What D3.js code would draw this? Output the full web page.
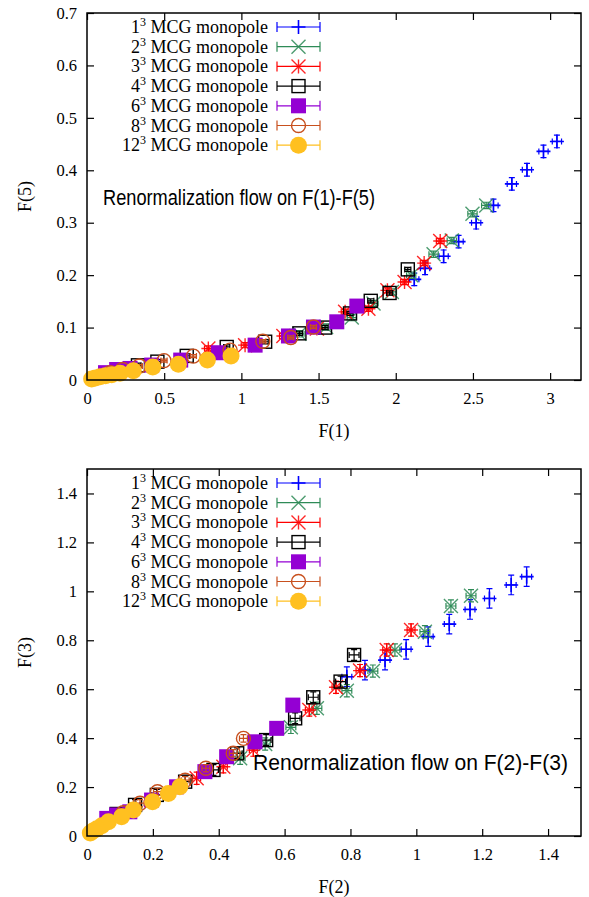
<!DOCTYPE html>
<html>
<head>
<meta charset="utf-8">
<script src="https://cdn.jsdelivr.net/npm/d3@7"></script>
<style>
  html, body { margin: 0; padding: 0; background: #fff; }
  svg { display: block; }
</style>
</head>
<body>
<svg id="chart" width="589" height="897"></svg>
<script>
// Lattice block sizes (n^3 MCG monopole), one series per size
const blockSizes = ["1", "2", "3", "4", "6", "8", "12"];
const seriesColors = ["#0000ff", "#2e8b57", "#ff0000", "#000000", "#9400d3", "#c8501e", "#ffc020"];
const seriesMarkers = ["plus", "cross", "star", "square", "squareFilled", "circle", "circleFilled"];

// ---- Panel 1: F(1) vs F(5) ----
const f1_L1 = [3.044, 2.957, 2.850, 2.752, 2.633, 2.521, 2.407, 2.310, 2.190, 2.120];
const f5_L1 = [0.455, 0.436, 0.401, 0.374, 0.333, 0.300, 0.264, 0.236, 0.213, 0.192];
const f1_L2 = [2.586, 2.497, 2.363, 2.245, 2.100, 1.975, 1.856, 1.715, 1.549, 1.376];
const f5_L2 = [0.333, 0.317, 0.266, 0.240, 0.200, 0.168, 0.146, 0.119, 0.101, 0.088];
const f1_L3 = [2.288, 2.184, 2.057, 1.946, 1.823, 1.672, 1.489, 1.272, 1.024, 0.786];
const f5_L3 = [0.265, 0.223, 0.187, 0.171, 0.136, 0.130, 0.098, 0.084, 0.0665, 0.060];
const f1_L4 = [2.078, 1.960, 1.838, 1.704, 1.542, 1.376, 1.154, 0.905, 0.646, 0.456, 0.330];
const f5_L4 = [0.211, 0.166, 0.151, 0.127, 0.100, 0.089, 0.073, 0.063, 0.046, 0.035, 0.028];
const f1_L6 = [1.748, 1.618, 1.467, 1.305, 1.089, 0.851, 0.607, 0.419, 0.279, 0.192, 0.120];
const f5_L6 = [0.141, 0.111, 0.101, 0.084, 0.0665, 0.052, 0.038, 0.0285, 0.022, 0.020, 0.014];
const f1_L8 = [1.467, 1.320, 1.139, 0.927, 0.689, 0.499, 0.339, 0.230, 0.150];
const f5_L8 = [0.101, 0.081, 0.074, 0.057, 0.0456, 0.037, 0.0266, 0.020, 0.014];
const f1_L12 = [0.933, 0.780, 0.592, 0.426, 0.300, 0.214, 0.160, 0.120, 0.085, 0.055, 0.030];
const f5_L12 = [0.0456, 0.038, 0.030, 0.025, 0.0177, 0.0127, 0.010, 0.008, 0.006, 0.004, 0.002];
// statistical errors (x, y) per block size, panel 1
const err15_x = [0.030, 0.030, 0.025, 0.020, 0.015, 0.020, 0.010];
const err15_y = [0.012, 0.006, 0.005, 0.004, 0.002, 0.003, 0.001];

// ---- Panel 2: F(2) vs F(3) ----
const f2_L1 = [1.335, 1.288, 1.222, 1.163, 1.100, 1.036, 0.969, 0.905, 0.844, 0.789];
const f3_L1 = [1.060, 1.026, 0.971, 0.926, 0.866, 0.815, 0.763, 0.719, 0.678, 0.651];
const f2_L2 = [1.166, 1.105, 1.026, 0.935, 0.868, 0.789, 0.698, 0.619, 0.541, 0.465];
const f3_L2 = [0.982, 0.940, 0.835, 0.760, 0.674, 0.594, 0.522, 0.444, 0.376, 0.318];
const f2_L3 = [0.984, 0.910, 0.829, 0.756, 0.675, 0.505, 0.414, 0.333];
const f3_L3 = [0.842, 0.760, 0.676, 0.608, 0.515, 0.351, 0.283, 0.236];
const f2_L4 = [0.811, 0.770, 0.687, 0.632, 0.544, 0.456, 0.384, 0.298, 0.212, 0.146, 0.090];
const f3_L4 = [0.740, 0.631, 0.567, 0.481, 0.392, 0.338, 0.270, 0.222, 0.168, 0.127, 0.090];
const f2_L6 = [0.625, 0.576, 0.510, 0.424, 0.358, 0.272, 0.196, 0.130, 0.090, 0.060];
const f3_L6 = [0.535, 0.440, 0.385, 0.324, 0.263, 0.201, 0.147, 0.099, 0.086, 0.072];
const f2_L8 = [0.475, 0.444, 0.361, 0.298, 0.214, 0.161, 0.110];
const f3_L8 = [0.399, 0.338, 0.277, 0.228, 0.181, 0.134, 0.095];
const f2_L12 = [0.282, 0.247, 0.199, 0.141, 0.105, 0.065, 0.045, 0.030, 0.018, 0.010];
const f3_L12 = [0.201, 0.174, 0.140, 0.106, 0.079, 0.058, 0.042, 0.030, 0.020, 0.012];
// statistical errors (x, y) per block size, panel 2
const err23_x = [0.015, 0.015, 0.012, 0.015, 0.008, 0.012, 0.006];
const err23_y = [0.040, 0.025, 0.025, 0.022, 0.010, 0.015, 0.008];

// axis ticks
const ticksF1 = [0, 0.5, 1, 1.5, 2, 2.5, 3];
const ticksF5 = [0, 0.1, 0.2, 0.3, 0.4, 0.5, 0.6, 0.7];
const ticksF2 = [0, 0.2, 0.4, 0.6, 0.8, 1, 1.2, 1.4];
const ticksF3 = [0, 0.2, 0.4, 0.6, 0.8, 1, 1.2, 1.4];

const panels = [
  {
    top: 13, bottom: 380, left: 87, right: 581,
    xDomain: [0, 3.2], yDomain: [0, 0.7],
    xTicks: ticksF1, yTicks: ticksF5,
    xLabel: "F(1)", yLabel: "F(5)",
    xs: [f1_L1, f1_L2, f1_L3, f1_L4, f1_L6, f1_L8, f1_L12],
    ys: [f5_L1, f5_L2, f5_L3, f5_L4, f5_L6, f5_L8, f5_L12],
    ex: err15_x, ey: err15_y,
    note: "Renormalization flow on F(1)-F(5)", noteX: 103, noteY: 197, noteW: 272
  },
  {
    top: 469, bottom: 836, left: 87, right: 581,
    xDomain: [0, 1.5], yDomain: [0, 1.5],
    xTicks: ticksF2, yTicks: ticksF3,
    xLabel: "F(2)", yLabel: "F(3)",
    xs: [f2_L1, f2_L2, f2_L3, f2_L4, f2_L6, f2_L8, f2_L12],
    ys: [f3_L1, f3_L2, f3_L3, f3_L4, f3_L6, f3_L8, f3_L12],
    ex: err23_x, ey: err23_y,
    note: "Renormalization flow on F(2)-F(3)", noteX: 253, noteY: 762, noteW: 315
  }
];

const svg = d3.select("#chart");
const SERIF = "'Liberation Serif', 'Times New Roman', serif";
const SANS = "'Liberation Sans', Arial, sans-serif";

// draw one marker glyph centred on (0,0)
function drawMarker(g, type, color) {
  const r = 7;
  if (type === "plus") {
    g.append("path").attr("d", `M${-r},0H${r}M0,${-r}V${r}`)
      .attr("stroke", color).attr("stroke-width", 1.6).attr("fill", "none");
  } else if (type === "cross") {
    g.append("path").attr("d", `M${-r},${-r}L${r},${r}M${-r},${r}L${r},${-r}`)
      .attr("stroke", color).attr("stroke-width", 1.4).attr("fill", "none").attr("opacity", 0.85);
  } else if (type === "star") {
    g.append("path").attr("d", `M${-r},0H${r}M0,${-r}V${r}M${-r},${-r}L${r},${r}M${-r},${r}L${r},${-r}`)
      .attr("stroke", color).attr("stroke-width", 1.4).attr("fill", "none").attr("opacity", 0.85);
  } else if (type === "square") {
    g.append("rect").attr("x", -6.5).attr("y", -6.5).attr("width", 13).attr("height", 13)
      .attr("stroke", color).attr("stroke-width", 1.4).attr("fill", "none");
  } else if (type === "squareFilled") {
    g.append("rect").attr("x", -7.5).attr("y", -7.5).attr("width", 15).attr("height", 15)
      .attr("fill", color);
  } else if (type === "circle") {
    g.append("circle").attr("r", 7)
      .attr("stroke", color).attr("stroke-width", 1.4).attr("fill", "none");
  } else if (type === "circleFilled") {
    g.append("circle").attr("r", 8.5).attr("fill", color);
  }
}

function superLabel(sel, base) {
  sel.append("tspan").text(base);
  sel.append("tspan").text("3").attr("font-size", 12).attr("dy", -7);
  sel.append("tspan").text(" MCG monopole").attr("dy", 7);
}

panels.forEach(p => {
  const x = d3.scaleLinear().domain(p.xDomain).range([p.left, p.right]);
  const y = d3.scaleLinear().domain(p.yDomain).range([p.bottom, p.top]);
  const g = svg.append("g");

  // axes: inward ticks on all four sides, labels on bottom/left
  const fmt = d3.format("~g");
  const axB = g.append("g").attr("transform", `translate(0,${p.bottom})`)
    .call(d3.axisBottom(x).tickValues(p.xTicks).tickSize(-7).tickPadding(12).tickFormat(fmt));
  const axT = g.append("g").attr("transform", `translate(0,${p.top})`)
    .call(d3.axisTop(x).tickValues(p.xTicks).tickSize(-7).tickFormat(""));
  const axL = g.append("g").attr("transform", `translate(${p.left},0)`)
    .call(d3.axisLeft(y).tickValues(p.yTicks).tickSize(-7).tickPadding(10).tickFormat(fmt));
  const axR = g.append("g").attr("transform", `translate(${p.right},0)`)
    .call(d3.axisRight(y).tickValues(p.yTicks).tickSize(-7).tickFormat(""));
  [axB, axT, axL, axR].forEach(a => {
    a.select(".domain").remove();
    a.selectAll("line").attr("stroke", "#000").attr("stroke-width", 1.2);
    a.selectAll("text").attr("font-family", SERIF).attr("font-size", 16.5).attr("fill", "#000");
  });

  // error bars and markers
  const capW = 3;
  p.xs.forEach((xs, si) => {
    const color = seriesColors[si];
    const ys = p.ys[si];
    const sg = g.append("g");
    xs.forEach((xv, i) => {
      const yv = ys[i];
      const cx = x(xv), cy = y(yv);
      const x0 = x(xv - p.ex[si]), x1 = x(xv + p.ex[si]);
      const y0 = y(yv - p.ey[si]), y1 = y(yv + p.ey[si]);
      sg.append("path")
        .attr("d", `M${x0},${cy}H${x1}M${x0},${cy - capW}V${cy + capW}M${x1},${cy - capW}V${cy + capW}` +
                   `M${cx},${y0}V${y1}M${cx - capW},${y0}H${cx + capW}M${cx - capW},${y1}H${cx + capW}`)
        .attr("stroke", color).attr("stroke-width", 1.2).attr("fill", "none");
      const mg = sg.append("g").attr("transform", `translate(${cx},${cy})`);
      drawMarker(mg, seriesMarkers[si], color);
    });
  });

  // frame
  g.append("rect").attr("x", p.left).attr("y", p.top)
    .attr("width", p.right - p.left).attr("height", p.bottom - p.top)
    .attr("fill", "none").attr("stroke", "#000").attr("stroke-width", 1.5);

  // legend
  blockSizes.forEach((b, i) => {
    const ly = p.top + 14 + i * 19.7;
    const t = g.append("text").attr("x", 268).attr("y", ly + 6)
      .attr("text-anchor", "end").attr("font-family", SERIF).attr("font-size", 18).attr("fill", "#000");
    superLabel(t, b);
    const color = seriesColors[i];
    const lx0 = 277, lx1 = 320, lc = (lx0 + lx1) / 2;
    g.append("path")
      .attr("d", `M${lx0},${ly}H${lx1}M${lx0},${ly - 5}V${ly + 5}M${lx1},${ly - 5}V${ly + 5}`)
      .attr("stroke", color).attr("stroke-width", 1.2).attr("fill", "none");
    const mg = g.append("g").attr("transform", `translate(${lc},${ly})`);
    drawMarker(mg, seriesMarkers[i], color);
  });

  // annotation
  g.append("text").attr("x", p.noteX).attr("y", p.noteY + 8)
    .attr("font-family", SANS).attr("font-size", 22)
    .attr("textLength", p.noteW).attr("lengthAdjust", "spacingAndGlyphs")
    .attr("fill", "#000").text(p.note);

  // axis titles
  g.append("text").attr("x", (p.left + p.right) / 2).attr("y", p.bottom + 57)
    .attr("text-anchor", "middle").attr("font-family", SERIF).attr("font-size", 18)
    .attr("fill", "#000").text(p.xLabel);
  g.append("text")
    .attr("transform", `translate(31,${(p.top + p.bottom) / 2}) rotate(-90)`)
    .attr("text-anchor", "middle").attr("font-family", SERIF).attr("font-size", 18)
    .attr("fill", "#000").text(p.yLabel);
});
</script>
</body>
</html>
